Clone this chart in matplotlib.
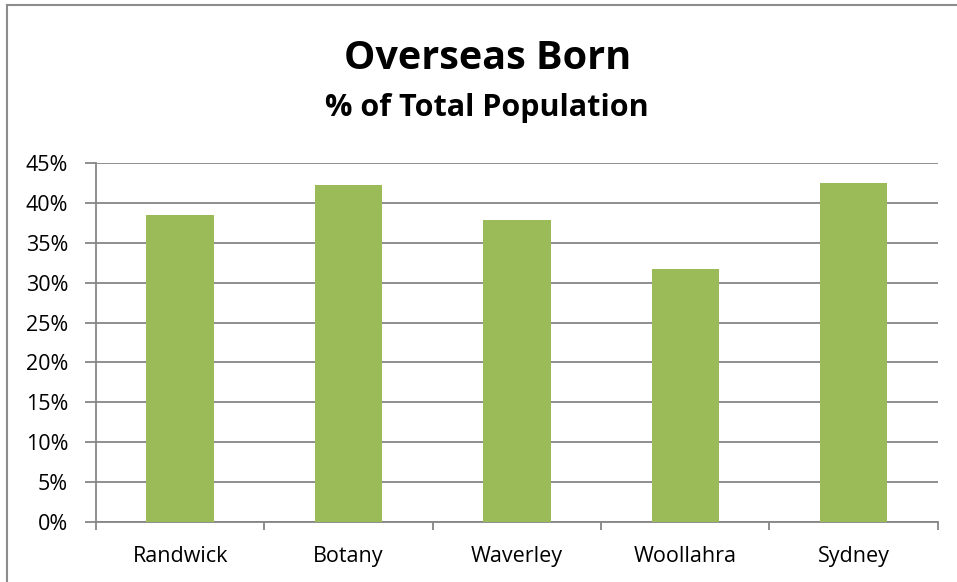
import matplotlib
matplotlib.use("Agg")
import matplotlib.pyplot as plt
from matplotlib.lines import Line2D
from matplotlib.ticker import MultipleLocator, PercentFormatter

plt.rcParams['font.family'] = ['Open Sans', 'DejaVu Sans']

councils = ['Randwick', 'Botany', 'Waverley', 'Woollahra', 'Sydney']
overseas_pct = [38.5, 42.2, 37.8, 31.7, 42.5]

fig = plt.figure(figsize=(9.57, 5.82), dpi=100)
ax = fig.add_axes([0.1003, 0.1031, 0.8797, 0.6169])

x = range(len(councils))
ax.bar(x, overseas_pct, width=0.4, color='#9BBB59', zorder=3)

ax.set_xlim(-0.5, len(councils) - 0.5)
ax.set_ylim(0, 45)
ax.yaxis.set_major_locator(MultipleLocator(5))
ax.yaxis.set_major_formatter(PercentFormatter(decimals=0))
ax.grid(axis='y', color='#868686', linewidth=1.3, zorder=0)

# category labels centred, tick marks on the boundaries
ax.set_xticks(list(x))
ax.set_xticklabels(councils, fontsize=15.5)
ax.tick_params(axis='x', length=0, pad=17)
ax.set_xticks([i - 0.5 for i in range(len(councils) + 1)], minor=True)
ax.tick_params(axis='x', which='minor', length=6, width=1.3, color='#868686')
ax.tick_params(axis='y', labelsize=15.5, length=8, width=1.3, color='#868686', pad=12)

for side in ['top', 'right']:
    ax.spines[side].set_visible(False)
for side in ['left', 'bottom']:
    ax.spines[side].set_color('#868686')
    ax.spines[side].set_linewidth(1.3)

fig.text(0.510, 0.90, 'Overseas Born', ha='center', va='center',
         fontsize=28.5, fontweight='bold')
fig.text(0.509, 0.814, '% of Total Population', ha='center', va='center',
         fontsize=22, fontweight='bold')

# chart-area border (top and left edges visible)
fig.add_artist(Line2D([0.0075, 1.0], [1 - 5 / 582, 1 - 5 / 582], color='#8C8C8C', linewidth=1.5))
fig.add_artist(Line2D([0.0075, 0.0075], [0.0, 1 - 5 / 582], color='#8C8C8C', linewidth=1.5))

fig.savefig('out.png', dpi=100)
